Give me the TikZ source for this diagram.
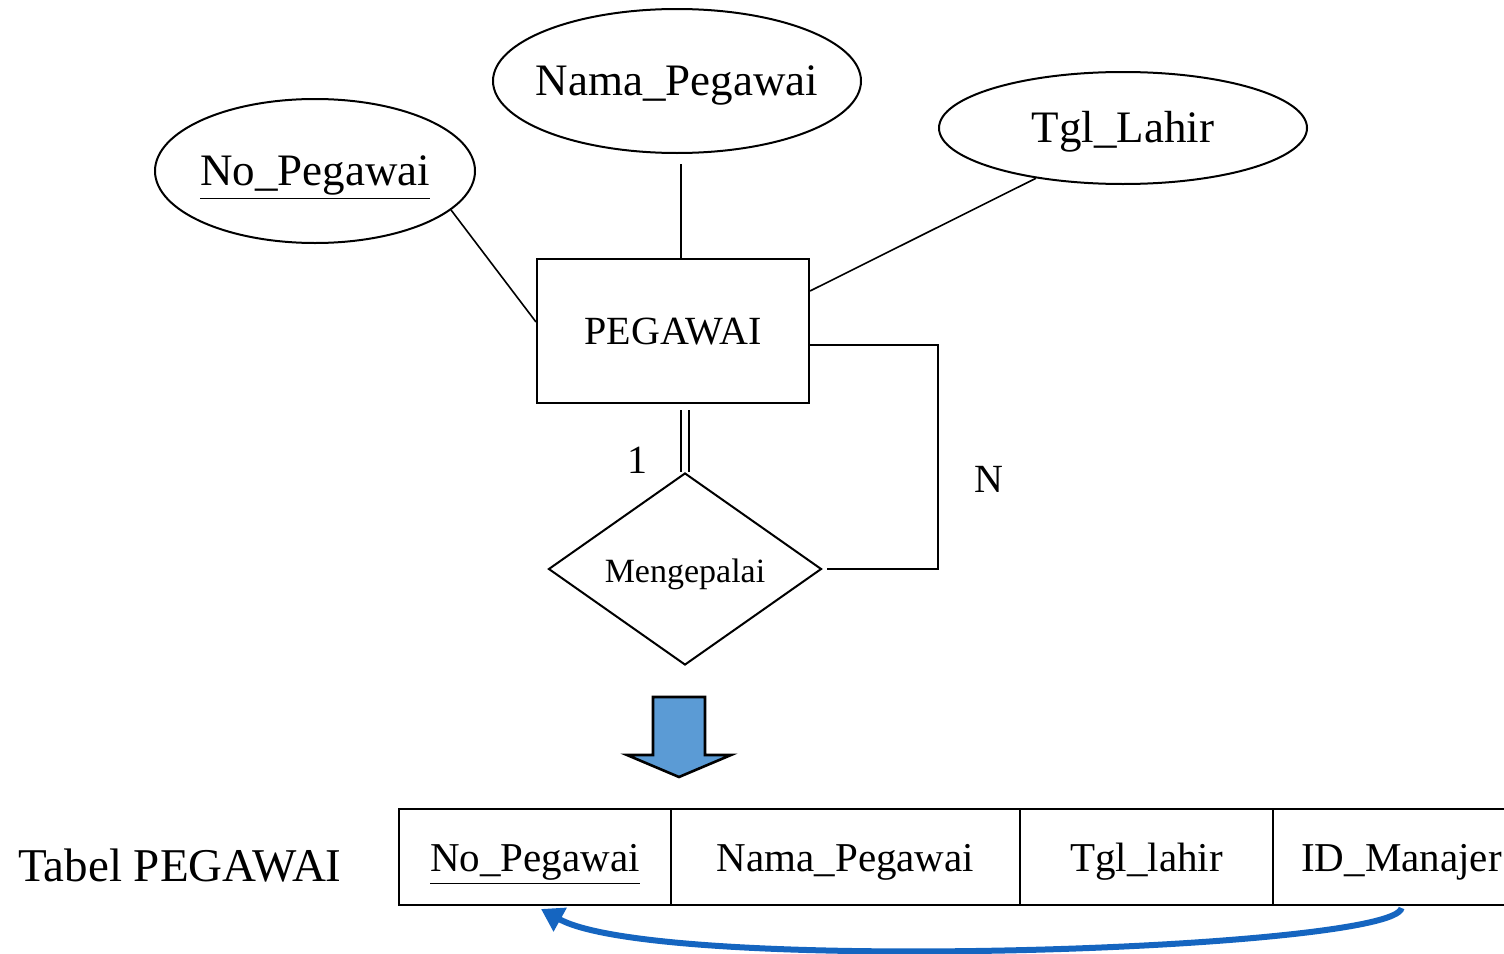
\documentclass[tikz,border=0pt]{standalone}
\usepackage{fontspec}
\setmainfont{Liberation Serif}
\usetikzlibrary{shapes.geometric,calc,arrows.meta}
\definecolor{arrowfill}{HTML}{5B9BD5}
\definecolor{linkblue}{RGB}{21,101,192}
\newcommand{\zw}[1]{\makebox[0pt]{#1}}
\tikzset{
  attr/.style={draw, ellipse, line width=1pt, inner sep=0pt, text height=16pt, text depth=1.2pt, font=\fontsize{22.5}{26}\selectfont},
  entity/.style={draw, rectangle, line width=1pt, inner sep=0pt, minimum width=136pt, minimum height=72pt, text height=14pt, text depth=1pt, font=\fontsize{20}{24}\selectfont},
  relation/.style={draw, diamond, line width=1pt, inner sep=0pt, minimum width=136.5pt, minimum height=96pt, text height=13pt, text depth=0pt, font=\fontsize{17}{20}\selectfont},
  conn/.style={line width=0.8pt},
  card/.style={font=\fontsize{20}{24}\selectfont},
  cell/.style={draw, rectangle, line width=1pt, inner sep=0pt, minimum height=48pt, text height=15pt, text depth=0.5pt, font=\fontsize{20.5}{24}\selectfont},
  fklink/.style={draw=linkblue, line width=3pt, -{Triangle[length=11pt,width=13pt]}},
}
\begin{document}
\begin{tikzpicture}[x=0.5pt,y=-0.5pt]
\useasboundingbox (0,0) rectangle (1504,953);

% attributes
\node[attr, minimum width=160pt, minimum height=72pt] (np) at (315,171) {\zw{\underline{No\_Pegawai}}};
\node[attr, minimum width=184pt, minimum height=72pt] (nm) at (677,81) {\zw{Nama\_Pegawai}};
\node[attr, minimum width=184pt, minimum height=56pt] (tl) at (1123,128) {\zw{Tgl\_Lahir}};

% entity and relationship
\node[entity] (peg) at (673,331) {PEGAWAI};
\node[relation] (mg) at (685,569) {\zw{Mengepalai}};

% attribute links
\draw[conn] (np.-16) -- ($(peg.west)+(0,-9)$);
\draw[conn] ($(nm.south)+(4,10)$) -- ($(peg.north)+(8,0)$);
\draw[conn] (tl.210) -- ($(peg.east)+(0,-40)$);

% recursive relationship
\draw[conn, double, double distance=3pt] ($(peg.south)+(12,6)$) -- (mg.north);
\draw[conn] ($(peg.east)+(0,14)$) -- ++(128,0) |- ($(mg.east)+(4,0)$);
\node[card] (one) at (637,460) {1};
\node[card] (many) at (989,479) {N};

% mapping arrow
\draw[fill=arrowfill, line width=1.3pt, line join=miter]
  (653,697) -- (705,697) -- (705,755) -- (731,755) -- (679,777) -- (627,755) -- (653,755) -- cycle;

% table
\node[font=\fontsize{23.5}{27}\selectfont] (tname) at (180,866) {Tabel PEGAWAI};
\node[cell, minimum width=136pt] (c1) at (535,857) {\zw{\underline{No\_Pegawai}}};
\node[cell, minimum width=174.5pt] (c2) at (845.5,857) {\zw{Nama\_Pegawai}};
\node[cell, minimum width=126.5pt] (c3) at (1146.5,857) {\zw{Tgl\_lahir}};
\node[cell, minimum width=128.5pt] (c4) at (1401.5,857) {\zw{ID\_Manajer}};

% foreign key reference
\draw[fklink] ($(c4.south)+(0,2)$) .. controls (1395,950) and (660,975) .. ($(c1.south)+(6,3)$);
\end{tikzpicture}
\end{document}
